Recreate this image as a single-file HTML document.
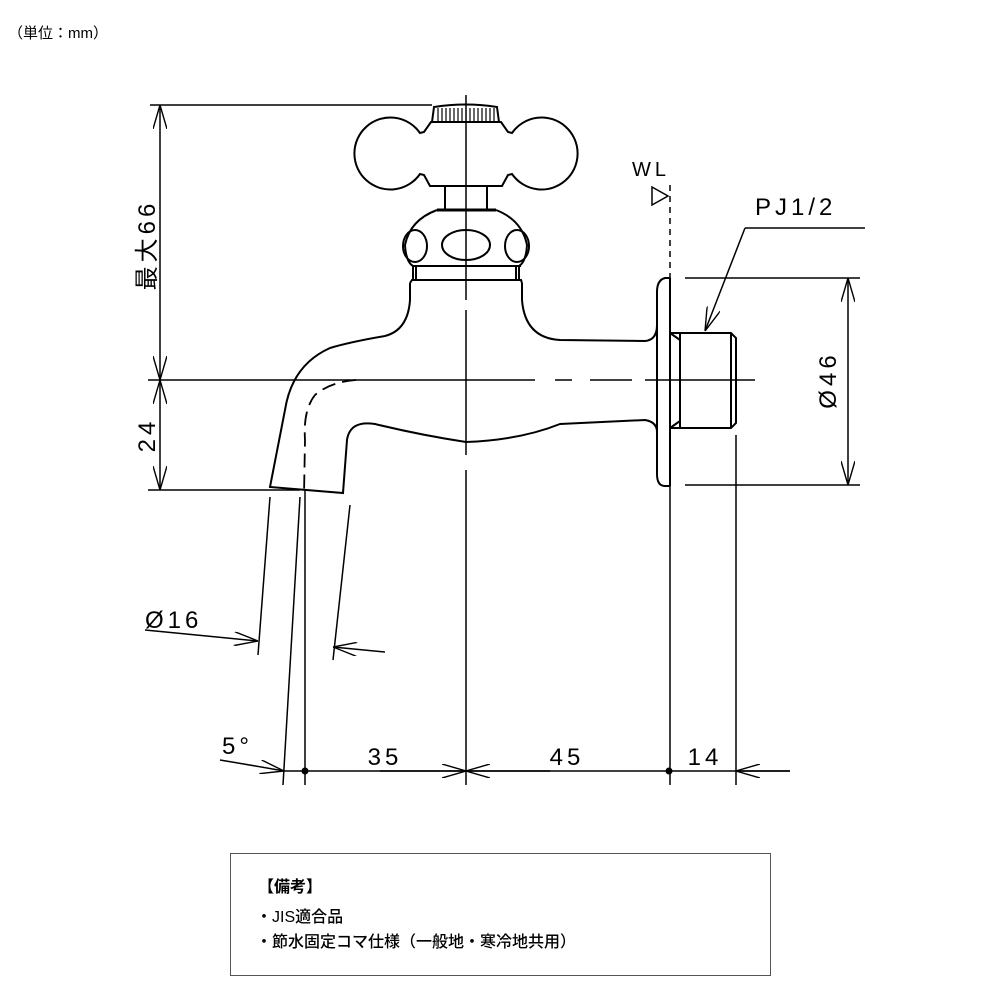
<!DOCTYPE html>
<html><head><meta charset="utf-8"><style>
body{margin:0;background:#fff}
svg{display:block}
text{font-family:"Liberation Sans","Noto Sans CJK JP",sans-serif;fill:#000}
</style></head><body>
<svg width="1000" height="1000" viewBox="0 0 1000 1000" xmlns="http://www.w3.org/2000/svg">
<defs>
<marker id="a" viewBox="0 0 24 14" refX="24" refY="7" markerWidth="24" markerHeight="14" markerUnits="userSpaceOnUse" orient="auto"><path d="M0,0 L24,7 L0,14" fill="none" stroke="#000" stroke-width="1.4"/></marker>
</defs>
<text x="8" y="38" font-size="15">（単位：mm）</text>
<g fill="none" stroke="#000" stroke-width="1.5">
<path d="M466,95 V300 M466,310 V455 M466,470 V785"/>
<path d="M148,380 H535 M555,380 H572 M590,380 H632 M645,380 H755"/>
<path d="M150,105 H432"/>
<path d="M160,200 V105" marker-end="url(#a)"/>
<path d="M160,200 V380" marker-end="url(#a)"/>
<path d="M160,430 V380" marker-end="url(#a)"/>
<path d="M160,430 V490" marker-end="url(#a)"/>
<path d="M148,490 H300"/>
<path d="M432,122 L434,107 Q466,102 497,107 L499,122 Z" stroke-width="2"/>
<path d="M438,108 V121 M442,108 V121 M446,108 V121 M450,108 V121 M454,108 V121 M458,108 V121 M462,108 V121 M470,108 V121 M474,108 V121 M478,108 V121 M482,108 V121 M486,108 V121 M490,108 V121 M494,108 V121" stroke-width="1.2"/>
<path d="M431,122 L424,132 L420,133 A36,36 0 1,0 420,174 L424,175 L430,186 H502 L508,175 L512,174 A36,36 0 1,0 512,133 L508,132 L501,122 Z" stroke-width="2"/>
<path d="M445,186 V210 M487,186 V210" stroke-width="2"/>
<path d="M437,210 H496" stroke-width="3"/>
<path d="M437,210 Q410,220 405,245 Q406,262 413,266 M496,210 Q522,220 527,245 Q526,262 519,266" stroke-width="2"/>
<ellipse cx="415" cy="246" rx="12" ry="16" stroke-width="2"/>
<ellipse cx="466" cy="245" rx="24" ry="15" stroke-width="2"/>
<ellipse cx="517" cy="246" rx="12" ry="16" stroke-width="2"/>
<path d="M412,266 H521 M413,266 V280 M519,266 V280 M410,283 L412,280 H521 L522,283 M416,266 V280 M516,266 V280" stroke-width="2"/>
<path d="M410,283 V300 Q408,330 385,336 Q350,342 330,348 Q292,365 285,410 L270,487 L343,493 L347,440 Q350,420 375,424 Q420,435 466,442 Q520,440 560,424 L645,420 Q657,422 657,432" stroke-width="2"/>
<path d="M522,283 V300 Q525,338 560,340 L645,341 Q657,340 657,325" stroke-width="2"/>
<path d="M356,380 Q330,382 315,395 Q303,410 305,440 L304,495" stroke-dasharray="14,7" stroke-width="1.8"/>
<path d="M670,278 H665 Q657,280 657,292 V474 Q657,486 665,486 H670" stroke-width="2"/>
<path d="M670,278 V486" stroke-width="2"/>
<path d="M670,333 H731 L736,338 V423 L731,428 H670 M680,333 V428 M670,333 L680,340 M670,428 L680,421 M731,333 V428" stroke-width="2"/>
<path d="M670,185 V278" stroke-dasharray="6,5"/>
<path d="M652,187 L668,196 L652,205 Z"/>
<path d="M670,486 V785 M736,435 V785 M305,490 V785"/>
<path d="M865,228 H745"/>
<path d="M745,228 L705,331" marker-end="url(#a)"/>
<path d="M685,278 H860 M685,485 H860"/>
<path d="M848,380 V278" marker-end="url(#a)"/>
<path d="M848,380 V485" marker-end="url(#a)"/>
<path d="M270,497 L258,655 M300,497 L283,785 M350,505 L333,660"/>
<path d="M145,630 L258,641" marker-end="url(#a)"/>
<path d="M385,652 L333,647" marker-end="url(#a)"/>
<path d="M305,771 H790"/>
<path d="M220,760 Q250,765 284,771" marker-end="url(#a)"/>
<path d="M284,771 H305"/>
<path d="M380,771 H466" marker-end="url(#a)"/>
<path d="M550,771 H466" marker-end="url(#a)"/>
<path d="M790,771 H736" marker-end="url(#a)"/>
</g>
<circle cx="305" cy="771" r="3.5"/>
<circle cx="669" cy="771" r="3.5"/>
<g font-size="24" font-family="Liberation Sans,sans-serif" letter-spacing="4">
<text x="385" y="765" text-anchor="middle">35</text>
<text x="567" y="765" text-anchor="middle">45</text>
<text x="705" y="765" text-anchor="middle">14</text>
<text x="222" y="754">5°</text>
<text x="145" y="628">Ø16</text>
<text x="632" y="176" font-size="20">WL</text>
<text x="755" y="215">PJ1/2</text>
<text transform="translate(836,380) rotate(-90)" text-anchor="middle">Ø46</text>
<text transform="translate(155,435) rotate(-90)" text-anchor="middle">24</text>
<text transform="translate(155,245) rotate(-90)" text-anchor="middle" font-family="Liberation Sans,Noto Sans CJK JP,sans-serif">最大66</text>
</g>
<rect x="230.5" y="853.5" width="540" height="122" fill="none" stroke="#555" stroke-width="1"/>
<text x="258" y="892" font-size="16" font-weight="bold">【備考】</text>
<text x="256" y="922" font-size="16" font-weight="500">・JIS適合品</text>
<text x="256" y="947" font-size="16" font-weight="500">・節水固定コマ仕様（一般地・寒冷地共用）</text>
</svg>
</body></html>
